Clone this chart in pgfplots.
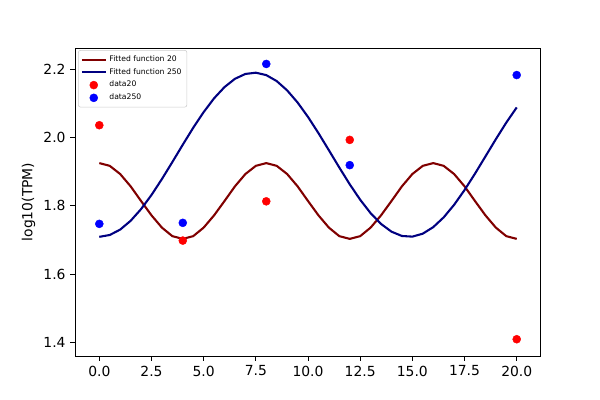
\documentclass[border=0pt]{standalone}
\usepackage{pgfplots}
\pgfplotsset{compat=1.18}
\usepackage{fontspec}
\setmainfont{DejaVu Sans}
\definecolor{maroonc}{HTML}{800000}
\definecolor{navyc}{HTML}{000080}
\begin{document}
\begin{tikzpicture}[x=1pt,y=1pt]
\begin{axis}[
  scale only axis,
  width=334.8pt, height=221.8pt,
  xmin=-1.15, xmax=21.13,
  ymin=1.3599, ymax=2.2624,
  xtick={0,2.5,...,20},
  ytick={1.4,1.6,1.8,2.0,2.2},
  xticklabel style={/pgf/number format/.cd,fixed,fixed zerofill,precision=1},
  yticklabel style={/pgf/number format/.cd,fixed,fixed zerofill,precision=1},
  /pgf/number format/assume math mode=true,
  tick align=outside,
  tick pos=left,
  major tick length=3.5pt,
  every tick/.style={black, line width=0.6pt},
  axis line style={line width=0.6pt},
  ticklabel style={font=\fontsize{10}{12}\selectfont},
  ylabel={log10(TPM)},
  ylabel style={font=\fontsize{10}{12}\selectfont, yshift=-1pt},
  legend style={at={(0.006,0.993)}, anchor=north west, font=\fontsize{5.5}{6.5}\selectfont,
    draw=black!20, rounded corners=1.5pt, fill=white,
    inner sep=1.8pt, row sep=-0.5pt},
  legend cell align=left,
  clip=false,
]
\addplot[maroonc, line width=1.5pt, no markers] coordinates {
(0,1.925)(0.5,1.917)(1,1.893)(1.5,1.857)(2,1.814)(2.5,1.772)(3,1.736)(3.5,1.711)(4,1.703)
(4.5,1.711)(5,1.736)(5.5,1.772)(6,1.814)(6.5,1.857)(7,1.893)(7.5,1.917)(8,1.925)
(8.5,1.917)(9,1.893)(9.5,1.857)(10,1.814)(10.5,1.772)(11,1.736)(11.5,1.711)(12,1.703)
(12.5,1.711)(13,1.736)(13.5,1.772)(14,1.814)(14.5,1.857)(15,1.893)(15.5,1.917)(16,1.925)
(16.5,1.917)(17,1.893)(17.5,1.857)(18,1.814)(18.5,1.772)(19,1.736)(19.5,1.711)(20,1.703)
};
\addlegendentry{Fitted function 20}
\addplot[navyc, line width=1.5pt, no markers] coordinates {
(0,1.709)(0.5,1.7144)(1,1.7302)(1.5,1.7559)(2,1.7902)(2.5,1.8316)(3,1.8783)(3.5,1.9281)
(4,1.9790)(4.5,2.0285)(5,2.0744)(5.5,2.1149)(6,2.1478)(6.5,2.1720)(7,2.1862)(7.5,2.1899)
(8,2.1828)(8.5,2.1653)(9,2.1381)(9.5,2.1026)(10,2.0602)(10.5,2.0129)(11,1.9627)(11.5,1.9120)
(12,1.8629)(12.5,1.8177)(13,1.7783)(13.5,1.7467)(14,1.7241)(14.5,1.7115)(15,1.7096)(15.5,1.7183)
(16,1.7374)(16.5,1.7660)(17,1.8028)(17.5,1.8461)(18,1.8940)(18.5,1.9444)(19,1.9950)(19.5,2.0437)
(20,2.0881)
};
\addlegendentry{Fitted function 250}
\addplot[only marks, mark=*, mark size=2.9pt, red, mark options={draw=red, fill=red, line width=0.3pt}] coordinates {
(0,2.036)(4,1.698)(8,1.813)(12,1.993)(20,1.409)
};
\addlegendentry{data20}
\addplot[only marks, mark=*, mark size=2.9pt, blue, mark options={draw=blue, fill=blue, line width=0.3pt}] coordinates {
(0,1.747)(4,1.750)(8,2.2155)(12,1.919)(20,2.183)
};
\addlegendentry{data250}
\end{axis}
\path[use as bounding box] (-54.22pt,-31.68pt) rectangle ++(432pt,288pt);
\end{tikzpicture}
\end{document}
